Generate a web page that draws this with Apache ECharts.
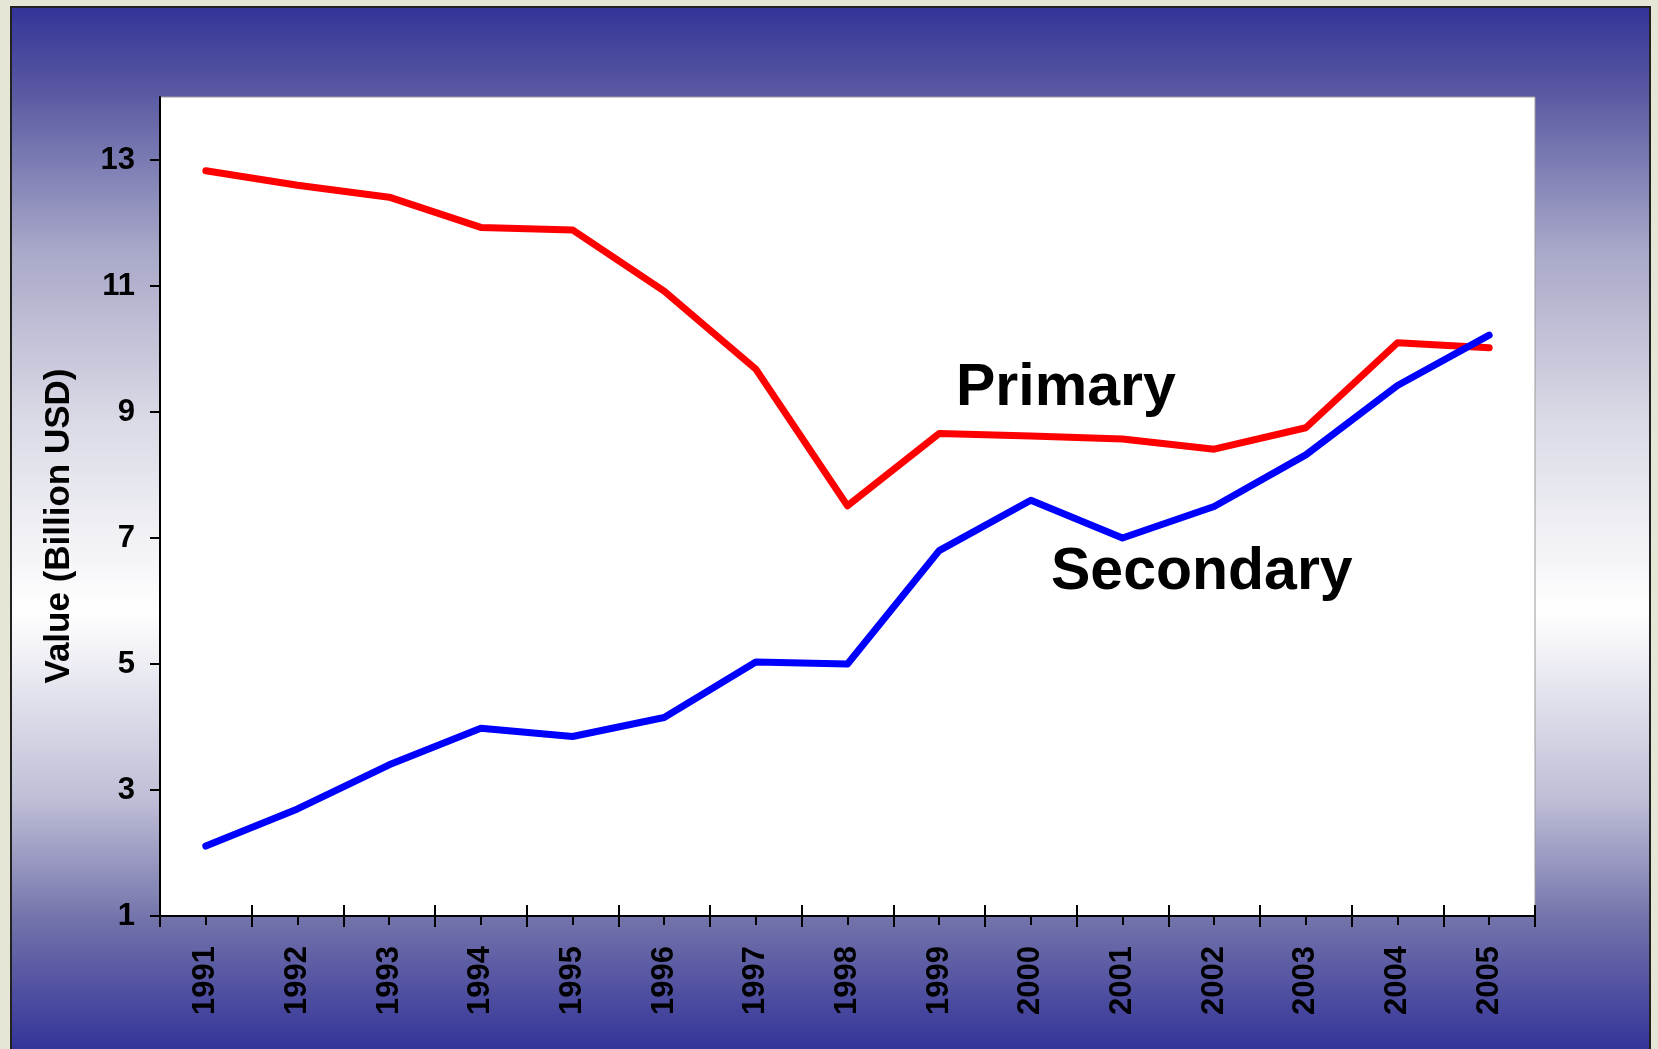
<!DOCTYPE html>
<html>
<head>
<meta charset="utf-8">
<script src="https://cdn.jsdelivr.net/npm/echarts@6/dist/echarts.min.js"></script>
<style>
  html, body { margin: 0; padding: 0; background: #e6e6d7; }
  #main { width: 1658px; height: 1049px; }
</style>
</head>
<body>
<div id="main"></div>
<script>
const years = ['1991', '1992', '1993', '1994', '1995', '1996', '1997', '1998',
  '1999', '2000', '2001', '2002', '2003', '2004', '2005']
const primary = [12.83, 12.6, 12.41, 11.93, 11.89, 10.92, 9.68, 7.51, 8.66, 8.62, 8.57, 8.41, 8.75, 10.1, 10.02]
const secondary = [2.11, 2.7, 3.4, 3.98, 3.85, 4.15, 5.03, 5.0, 6.8, 7.6, 7.0, 7.5, 8.32, 9.42, 10.22]
const yTicks = [1, 3, 5, 7, 9, 11, 13]

const font = "'Liberation Sans', Arial, sans-serif"
const chart = echarts.init(document.getElementById('main'))

const catAxis = (extra) => Object.assign({
  type: 'category',
  data: years,
  position: 'bottom',
  boundaryGap: true,
  axisLine: { show: false, onZero: false },
  axisLabel: { show: false },
  splitLine: { show: false },
}, extra)

chart.setOption({
  animation: false,
  graphic: [
    {
      type: 'rect',
      z: -10,
      shape: { x: 11, y: 7, width: 1639, height: 1060 },
      style: {
        fill: new echarts.graphic.LinearGradient(0, 0, 0, 1, [
          { offset: 0, color: '#333399' },
          { offset: 0.085, color: '#5b5ba3' },
          { offset: 0.23, color: '#a8a8c9' },
          { offset: 0.39, color: '#dadae6' },
          { offset: 0.57, color: '#ffffff' },
          { offset: 0.75, color: '#bdbdd6' },
          { offset: 0.865, color: '#7070aa' },
          { offset: 0.985, color: '#333399' },
          { offset: 1, color: '#333399' },
        ]),
        stroke: '#222',
        lineWidth: 2,
      },
    },
    {
      type: 'text',
      z: 10,
      x: 59, y: 526,
      rotation: Math.PI / 2,
      style: {
        text: 'Value (Billion USD)',
        font: 'bold 35px ' + font,
        fill: '#000',
        align: 'center',
        verticalAlign: 'middle',
      },
    },
    {
      type: 'text',
      z: 10,
      x: 956, y: 389,
      style: {
        text: 'Primary',
        font: 'bold 59px ' + font,
        fill: '#000',
        verticalAlign: 'middle',
      },
    },
    {
      type: 'text',
      z: 10,
      x: 1051, y: 573,
      style: {
        text: 'Secondary',
        font: 'bold 59px ' + font,
        fill: '#000',
        verticalAlign: 'middle',
      },
    },
  ],
  grid: {
    left: 160,
    top: 97,
    right: 123,
    bottom: 133,
    show: true,
    backgroundColor: '#ffffff',
    borderColor: '#9a9a9a',
    borderWidth: 1,
  },
  xAxis: [
    catAxis({
      axisLine: { show: true, onZero: false, lineStyle: { color: '#000', width: 2 } },
      axisTick: { show: true, interval: 0, length: 11, lineStyle: { color: '#000', width: 2 } },
      axisLabel: {
        show: true,
        interval: 0,
        rotate: 90,
        margin: 30,
        color: '#000',
        fontFamily: font,
        fontWeight: 'bold',
        fontSize: 31,
      },
    }),
    catAxis({
      axisTick: { show: true, inside: true, interval: 0, length: 11, lineStyle: { color: '#000', width: 2 } },
    }),
    catAxis({
      axisTick: { show: true, alignWithLabel: true, interval: 0, length: 9, lineStyle: { color: '#000', width: 2 } },
    }),
  ],
  yAxis: {
    type: 'value',
    min: 1,
    max: 14,
    splitLine: { show: false },
    axisLine: { show: true, onZero: false, lineStyle: { color: '#000', width: 2 } },
    axisTick: { show: true, length: 10, customValues: yTicks, lineStyle: { color: '#000', width: 2 } },
    axisLabel: {
      customValues: yTicks,
      margin: 25,
      color: '#000',
      fontFamily: font,
      fontWeight: 'bold',
      fontSize: 31,
    },
  },
  series: [
    {
      name: 'Primary',
      type: 'line',
      data: primary,
      showSymbol: false,
      lineStyle: { color: '#ff0000', width: 7, cap: 'round', join: 'round' },
      z: 3,
    },
    {
      name: 'Secondary',
      type: 'line',
      data: secondary,
      showSymbol: false,
      lineStyle: { color: '#0000ff', width: 7, cap: 'round', join: 'round' },
      z: 4,
    },
  ],
})
</script>
</body>
</html>
